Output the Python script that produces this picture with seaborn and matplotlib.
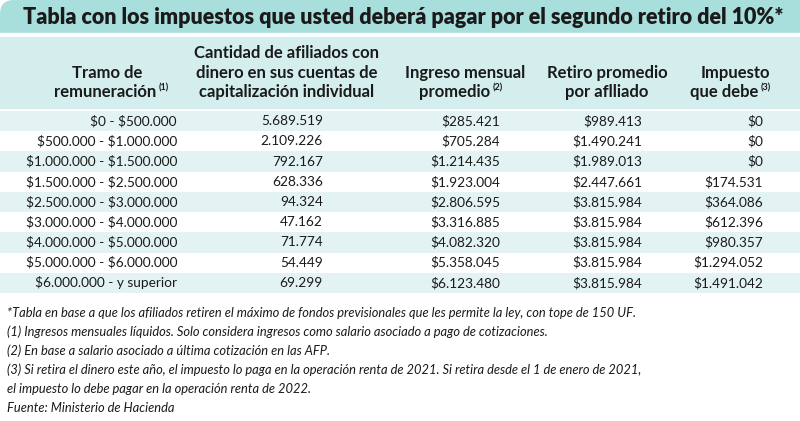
import numpy as np
import pandas as pd
import seaborn as sns
from matplotlib import pyplot as plt
from matplotlib.colors import ListedColormap
from matplotlib.patches import FancyBboxPatch

# table data
title = "Tabla con los impuestos que usted deberá pagar por el segundo retiro del 10%*"
tramos = ["$0 - $500.000", "$500.000 - $1.000.000", "$1.000.000 - $1.500.000",
          "$1.500.000 - $2.500.000", "$2.500.000 - $3.000.000", "$3.000.000 - $4.000.000",
          "$4.000.000 - $5.000.000", "$5.000.000 - $6.000.000", "$6.000.000 - y superior"]
afiliados = ["5.689.519", "2.109.226", "792.167", "628.336", "94.324",
             "47.162", "71.774", "54.449", "69.299"]
ingreso = ["$285.421", "$705.284", "$1.214.435", "$1.923.004", "$2.806.595",
           "$3.316.885", "$4.082.320", "$5.358.045", "$6.123.480"]
retiro = ["$989.413", "$1.490.241", "$1.989.013", "$2.447.661", "$3.815.984",
          "$3.815.984", "$3.815.984", "$3.815.984", "$3.815.984"]
impuesto = ["$0", "$0", "$0", "$174.531", "$364.086",
            "$612.396", "$980.357", "$1.294.052", "$1.491.042"]
notas = [
    "*Tabla en base a que los afiliados retiren el máximo de fondos previsionales que les permite la ley, con tope de 150 UF.",
    "(1) Ingresos mensuales líquidos. Solo considera ingresos como salario asociado a pago de cotizaciones.",
    "(2) En base a salario asociado a última cotización en las AFP.",
    "(3) Si retira el dinero este año, el impuesto lo paga en la operación renta de 2021. Si retira desde el 1 de enero de 2021,",
    "el impuesto lo debe pagar en la operación renta de 2022.",
    "Fuente: Ministerio de Hacienda",
]

df = pd.DataFrame({"tramo": tramos, "afiliados": afiliados, "ingreso": ingreso,
                   "retiro": retiro, "impuesto": impuesto})

sns.set_theme(style="white")
plt.rcParams['font.family'] = ['Lato', 'DejaVu Sans']
plt.rcParams['text.parse_math'] = False

W, H = 800, 421
fig = plt.figure(figsize=(W / 100, H / 100), dpi=100)
ink = "#1a1a1a"

# background / header layer in pixel coordinates
ax = fig.add_axes([0, 0, 1, 1])
ax.set_xlim(0, W)
ax.set_ylim(H, 0)
ax.axis("off")
ax.add_patch(FancyBboxPatch((0, 0), W + 40, 50, boxstyle="round,pad=0,rounding_size=14",
                            fc="#a8dfdc", ec="none", zorder=0))
ax.axhspan(33, 111, color="white", zorder=1)
ax.axhspan(37, 108, color="#d4eeee", zorder=2)
ax.text(403, 17, title, ha="center", va="center", fontsize=15.5,
        fontweight="heavy", color=ink, zorder=3)

hdr = dict(fontsize=12, fontweight="bold", color=ink, va="center", zorder=3)
sup = dict(fontsize=6.5, fontweight="bold", color=ink, va="center", zorder=3)
ax.text(107, 73, "Tramo de", ha="center", **hdr)
ax.text(156, 92, "remuneración", ha="right", **hdr)
ax.text(159, 88, "(1)", ha="left", **sup)
for y, line in zip([53, 73, 92], ["Cantidad de afiliados con", "dinero en sus cuentas de",
                                 "capitalización individual"]):
    ax.text(287, y, line, ha="center", **hdr)
ax.text(465, 73, "Ingreso mensual", ha="center", **hdr)
ax.text(490, 92, "promedio", ha="right", **hdr)
ax.text(493, 88, "(2)", ha="left", **sup)
ax.text(607, 73, "Retiro promedio", ha="center", **hdr)
ax.text(607, 92, "por aflliado", ha="center", **hdr)
ax.text(735, 73, "Impuesto", ha="center", **hdr)
ax.text(758, 92, "que debe", ha="right", **hdr)
ax.text(761, 88, "(3)", ha="left", **sup)

# body rows: striped heatmap
top, bottom = 111, 293
axb = fig.add_axes([0, 1 - bottom / H, 1, (bottom - top) / H])
stripes = np.array([[i % 2] for i in range(len(df))])
sns.heatmap(stripes, ax=axb, cmap=ListedColormap(["#e3f2f3", "white"]),
            cbar=False, xticklabels=False, yticklabels=False, vmin=0, vmax=1)
axb.axis("off")

right_edges = {"tramo": 177, "afiliados": 323, "ingreso": 500, "retiro": 642, "impuesto": 763}
for col, xr in right_edges.items():
    for i, val in enumerate(df[col]):
        axb.text(xr / W, i + 0.5, val, ha="right", va="center", fontsize=9.8,
                 color=ink, transform=axb.get_yaxis_transform())

# footnotes
for i, line in enumerate(notas):
    ax.text(7, 313 + i * 19, line, ha="left", va="center", fontsize=9.3,
            style="italic", color=ink)

fig.savefig("out.png", dpi=100)
